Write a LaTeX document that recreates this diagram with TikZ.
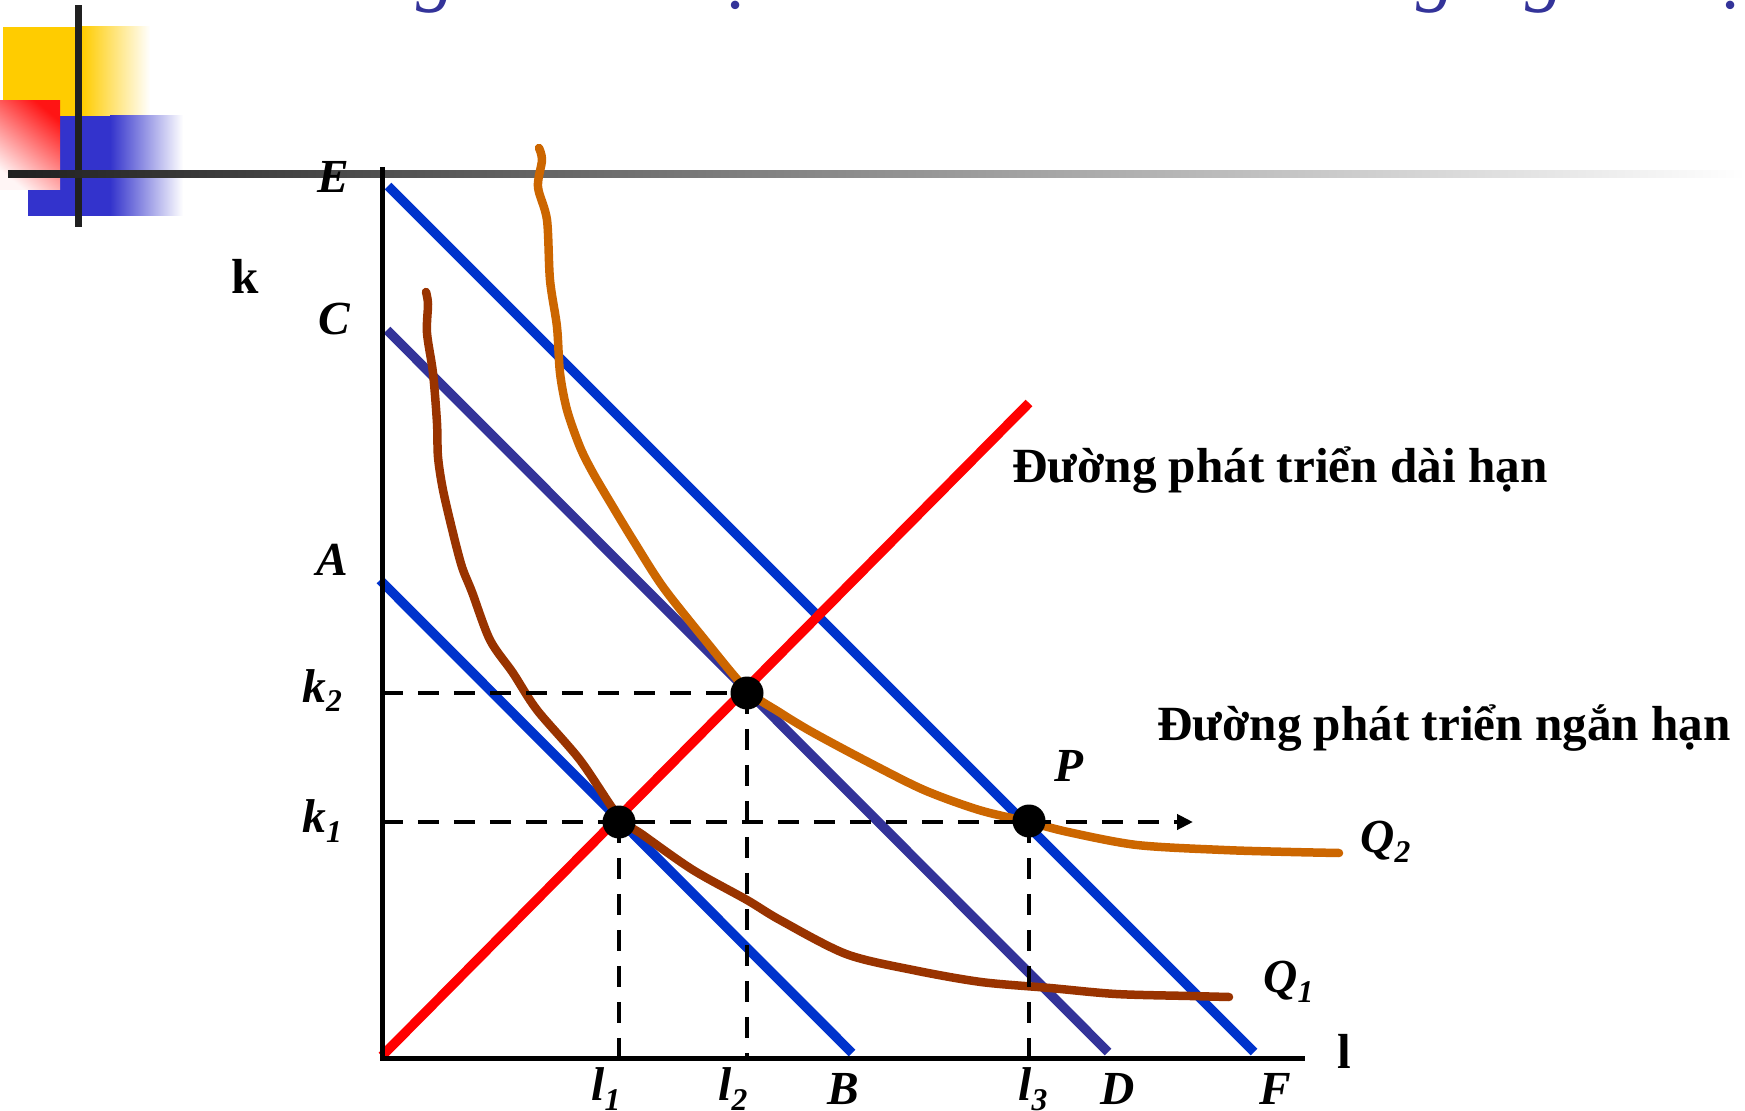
\documentclass[tikz,border=0pt]{standalone}
\usepackage{fontspec}
\setmainfont{Liberation Serif}
\usetikzlibrary{arrows.meta}
\definecolor{lblue}{HTML}{0033CC}
\definecolor{navyln}{HTML}{333399}
\definecolor{lred}{HTML}{FF0000}
\definecolor{qbrown}{HTML}{993300}
\definecolor{qorange}{HTML}{CC6600}
\definecolor{ttlblue}{HTML}{333399}
\definecolor{dyellow}{HTML}{FFCC00}
\definecolor{dblue}{HTML}{3333CC}
\definecolor{barc}{HTML}{202020}
\newcommand\subx[1]{\raisebox{-0.2cm}{\fontsize{18}{18}\selectfont #1}}
\tikzset{
  budget/.style={line width=0.19cm},
  curve/.style={line width=0.17cm, line cap=round, line join=round},
  guide/.style={line width=0.095cm, dash pattern=on 0.42cm off 0.3cm},
  axisln/.style={line width=0.1cm},
  lbl/.style={font=\fontsize{27}{30}\selectfont\bfseries\itshape, inner sep=0},
  txt/.style={font=\fontsize{28}{31}\selectfont\bfseries, inner sep=0},
  dot/.style={circle, fill=black, minimum size=0.66cm, inner sep=0},
  ttl/.style={font=\fontsize{45}{50}\selectfont\itshape, text=ttlblue, inner sep=0, anchor=base}
}
\begin{document}
\begin{tikzpicture}[x=0.02cm,y=-0.02cm]
\useasboundingbox (0,0) rectangle (1745,1111);
\fill[white] (0,0) rectangle (1745,1111);

% clipped title fragments
\begin{scope}
\clip (0,0) rectangle (1745,1111);
\node[ttl] (t1) at (436,-3) {g};
\node[ttl] (t2) at (741,-3) {ạ};
\node[ttl] (t3) at (1436,-3) {g};
\node[ttl] (t4) at (1545,-3) {g};
\node[ttl] (t5) at (1736,-3) {ạ};
\end{scope}

% decoration
\fill[dyellow] (3,27) rectangle (82,116);
\shade[left color=dyellow, right color=white] (82,27) rectangle (150,116);
\fill[dblue] (28,116) rectangle (110,216);
\shade[left color=dblue, right color=white] (110,116) rectangle (183,216);
\shade[top color=red!92, bottom color=red!4, shading angle=-40] (0,101) rectangle (60,190);
\fill[barc] (75,5) rectangle (82,227);
\shade[left color=barc, right color=white] (8,171) rectangle (1745,178);

% coordinates
\coordinate (O) at (382,1058);
\coordinate (ytop) at (382,167);
\coordinate (xend) at (1305,1058);
\coordinate (E0) at (388,186);
\coordinate (F0) at (1254,1052);
\coordinate (C0) at (387,330);
\coordinate (D0) at (1108,1052);
\coordinate (A0) at (380,580);
\coordinate (B0) at (852,1053);
\coordinate (R0) at (382,1056);
\coordinate (R1) at (1029,403);
\coordinate (k1ax) at (382,822);
\coordinate (k2ax) at (382,693);
\coordinate (l1ax) at (619,1058);
\coordinate (l2ax) at (747,1058);
\coordinate (l3ax) at (1029,1058);
\coordinate (arr) at (1193,822);

% budget lines
\draw[budget, lblue] (E0) -- (F0);
\draw[budget, navyln] (C0) -- (D0);
\draw[budget, lblue] (A0) -- (B0);
\draw[budget, lred] (R0) -- (R1);

% isoquants
\draw[curve, qbrown] plot[smooth, tension=0.5] coordinates {(426,292) (428,304) (427,333) (433,373) (437,423) (438,457) (443,490) (453,533) (462,567) (472,592) (490,640) (513,673) (537,710) (580,760) (619,817) (643,835) (693,870) (747,900) (780,920) (846,954) (913,970) (981,982) (1050,988) (1116,994) (1190,996) (1229,997)};
\draw[curve, qorange] plot[smooth, tension=0.5] coordinates {(539,148) (542,160) (538,187) (547,220) (550,280) (557,327) (560,373) (567,410) (580,447) (593,473) (613,507) (633,540) (663,587) (705,640) (747,690) (779,712) (812,732) (868,762) (924,790) (979,810) (1029,822) (1068,832) (1137,845) (1224,850) (1291,852) (1339,853)};

% axes
\draw[axisln] (ytop) -- (O) -- (xend);

% guides
\draw[guide] (k2ax) -- (747,693);
\draw[guide, -{Triangle[length=0.32cm, width=0.3cm]}] (k1ax) -- (arr);
\draw[guide] (619,822) -- (l1ax);
\draw[guide] (747,693) -- (l2ax);
\draw[guide] (1029,822) -- (l3ax);

% points
\node[dot] (p1) at (619,822) {};
\node[dot] (p2) at (747,693) {};
\node[dot] (pP) at (1029,821) {};

% labels
\node[lbl] (Elab) at (333,177) {E};
\node[lbl] (Clab) at (334,319) {C};
\node[lbl] (Alab) at (332,560) {A};
\node[lbl, anchor=base west] (k2lab) at (302,702) {k\subx{2}};
\node[lbl, anchor=base west] (k1lab) at (302,832) {k\subx{1}};
\node[lbl, anchor=base west] (l1lab) at (591,1100) {l\subx{1}};
\node[lbl, anchor=base west] (l2lab) at (718,1100) {l\subx{2}};
\node[lbl, anchor=base west] (l3lab) at (1018,1100) {l\subx{3}};
\node[lbl, anchor=base] (Blab) at (843,1104) {B};
\node[lbl, anchor=base] (Dlab) at (1118,1104) {D};
\node[lbl, anchor=base] (Flab) at (1275,1104) {F};
\node[lbl] (Plab) at (1069,766) {P};
\node[lbl, anchor=base west] (Q2lab) at (1360,852) {Q\subx{2}};
\node[lbl, anchor=base west] (Q1lab) at (1263,992) {Q\subx{1}};
\node[txt, anchor=base] (klab) at (245,294) {k};
\node[txt, anchor=base] (llab) at (1344,1068) {l};
\node[txt, anchor=base west] (long) at (1012,482) {Đường phát triển dài hạn};
\node[txt, anchor=base west] (short) at (1157,740) {Đường phát triển ngắn hạn};
\end{tikzpicture}
\end{document}
